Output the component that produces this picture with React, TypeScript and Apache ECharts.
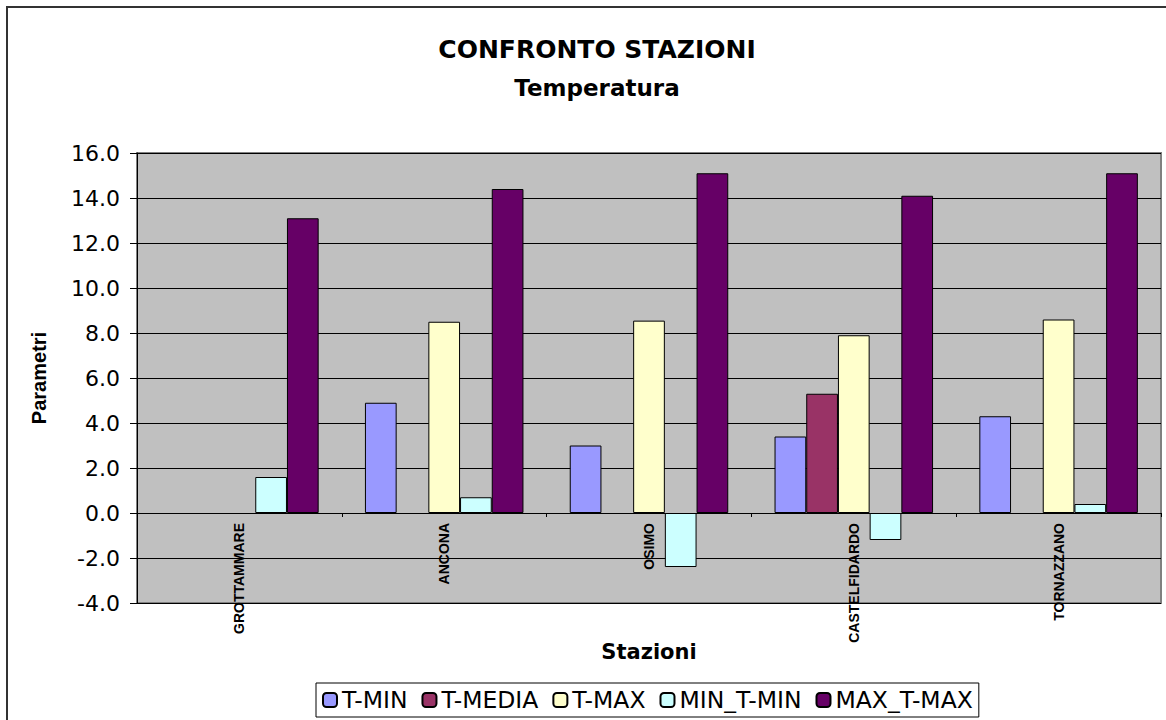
import React, { useEffect, useRef } from "react";
import * as echarts from "echarts";

const stations = ["GROTTAMMARE", "ANCONA", "OSIMO", "CASTELFIDARDO", "TORNAZZANO"];
const tMin = [null, 4.9, 3.0, 3.4, 4.3];
const tMedia = [null, null, null, 5.3, null];
const tMax = [null, 8.5, 8.55, 7.9, 8.6];
const minTMin = [1.6, 0.7, -2.4, -1.2, 0.4];
const maxTMax = [13.1, 14.4, 15.1, 14.1, 15.1];

const seriesNames = ["T-MIN", "T-MEDIA", "T-MAX", "MIN_T-MIN", "MAX_T-MAX"];
const seriesColors = ["#9999FF", "#993366", "#FFFFCC", "#CCFFFF", "#660066"];
const seriesData = [tMin, tMedia, tMax, minTMin, maxTMax];

export default function App() {
  const ref = useRef<HTMLDivElement>(null);
  useEffect(() => {
    if (!ref.current) return;
    const chart = echarts.init(ref.current, null, { renderer: "svg" });
    chart.setOption({
      animation: false,
      backgroundColor: "#ffffff",
      title: {
        text: "CONFRONTO STAZIONI",
        subtext: "Temperatura",
        left: 592,
        top: 32,
        textAlign: "center",
        itemGap: 14,
        textStyle: { fontFamily: "DejaVu Sans", fontWeight: "bold", fontSize: 25, color: "#000" },
        subtextStyle: { fontFamily: "DejaVu Sans", fontWeight: "bold", fontSize: 23, color: "#000" },
      },
      graphic: [
        {
          type: "rect",
          silent: true,
          z: -10,
          shape: { x: 7, y: 7, width: 1180, height: 740 },
          style: { fill: "none", stroke: "#333333", lineWidth: 2 },
        },
      ],
      legend: {
        left: 316,
        top: 683,
        itemWidth: 14,
        itemHeight: 14,
        itemGap: 14,
        padding: [5, 6, 5, 6],
        borderColor: "#000",
        borderWidth: 1,
        backgroundColor: "#fff",
        textStyle: { fontFamily: "DejaVu Sans", fontSize: 23.5, color: "#000" },
        data: seriesNames,
      },
      grid: {
        left: 137,
        top: 153,
        right: 5,
        bottom: 117,
        outerBoundsMode: "none",
        containLabel: false,
        show: true,
        backgroundColor: "#C0C0C0",
        borderColor: "#808080",
        borderWidth: 2,
      },
      xAxis: {
        type: "category",
        data: stations,
        name: "Stazioni",
        nameLocation: "middle",
        nameGap: 38,
        nameMoveOverlap: false,
        nameTextStyle: { fontFamily: "DejaVu Sans", fontWeight: "bold", fontSize: 21, color: "#000" },
        axisLine: { onZero: true, lineStyle: { color: "#000", width: 1 } },
        axisTick: { show: true, length: 4, lineStyle: { color: "#000" } },
        axisLabel: {
          rotate: 90,
          interval: 0,
          margin: -80,
          fontFamily: "Liberation Sans",
          fontWeight: "bold",
          fontSize: 14,
          color: "#000",
        },
      },
      yAxis: {
        type: "value",
        min: -4,
        max: 16,
        interval: 2,
        name: "Parametri",
        nameLocation: "middle",
        nameRotate: 90,
        nameGap: 88,
        nameTextStyle: { fontFamily: "Liberation Sans", fontWeight: "bold", fontSize: 20, color: "#000" },
        axisLine: { show: true, lineStyle: { color: "#000", width: 1 } },
        axisTick: { show: true, length: 7, lineStyle: { color: "#000" } },
        axisLabel: {
          margin: 17,
          fontFamily: "DejaVu Sans",
          fontSize: 22,
          color: "#000",
          formatter: (v: number) => v.toFixed(1),
        },
        splitLine: { show: true, lineStyle: { color: "#000", width: 1 } },
      },
      series: seriesNames.map((name, i) => ({
        name,
        type: "bar",
        data: seriesData[i],
        barGap: "0%",
        barCategoryGap: "22.6%",
        itemStyle: { color: seriesColors[i], borderColor: "#000", borderWidth: 1 },
      })),
    });
    return () => chart.dispose();
  }, []);
  return (
    <div
      ref={ref}
      style={{ position: "fixed", left: 0, top: 0, width: 1166, height: 720 }}
    />
  );
}
